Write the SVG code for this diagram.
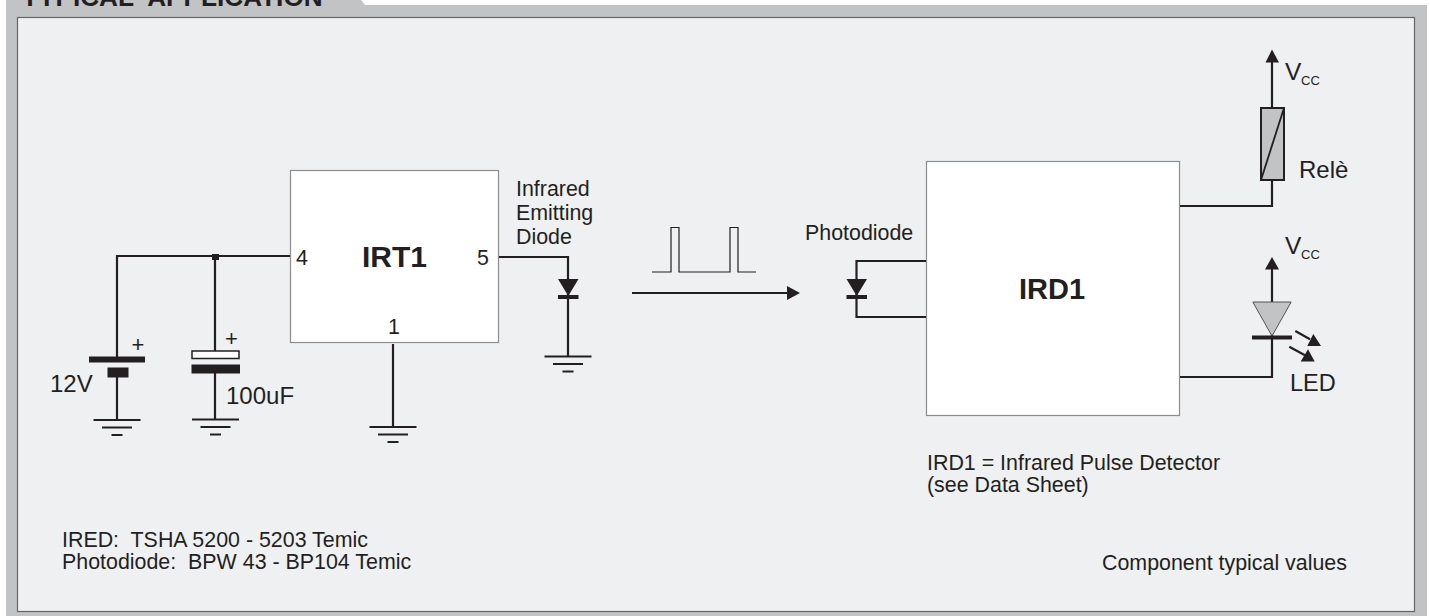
<svg xmlns="http://www.w3.org/2000/svg" width="1430" height="616" viewBox="0 0 1430 616">
<defs><g id="gnd"><path class="w" d="M-23.500 0H23.500M-15 7.500H15M-5.500 15H5.500" style="stroke-width:1.800"/></g></defs>
<style>
text{font-family:"Liberation Sans",Arial,sans-serif;fill:#231f20;font-size:21.4px;white-space:pre}
.w{fill:none;stroke:#231f20;stroke-width:2.2}
.t{fill:none;stroke:#231f20;stroke-width:1.2}
.b{fill:#fff;stroke:#8c8c8c;stroke-width:1.2}
.k{fill:#231f20;stroke:none}
</style>
<rect width="1430" height="616" fill="#fff"/>
<path d="M6 0H361L365 5H1427V616H6Z" fill="#c1c3c5"/>
<rect x="17.500" y="17.500" width="1397" height="594" fill="#eff0f2" stroke="#666" stroke-width="1.200"/>
<text x="22" y="6" style="font-size:26.200px;font-weight:700">TYPICAL  APPLICATION</text>
<g id="connectors">
<path class="w" d="M290 256H117V357M117 377V420M215 256V351M215 373V420M393 344V427M499 257H568V357"/>
<path class="w" d="M632 293H790"/><path class="k" d="M787 286L800 293L787 300Z"/>
<path class="t" d="M652 272H671V227.500H679V272H730V227.500H738V272H756"/>
<path class="w" d="M926 261H856.500V317H926M1180 206H1272V180M1272 108V60M1180 377H1272V268"/>
</g>
<g id="IRT1"><rect class="b" x="290.500" y="170.500" width="208" height="172"/>
<text x="362" y="267" style="font-size:30px;font-weight:700">IRT1</text><text x="296" y="265">4</text><text x="477" y="265">5</text><text x="388" y="334">1</text></g>
<g id="IRD1"><rect class="b" x="926.500" y="161.500" width="253" height="254"/>
<text x="1019" y="299" style="font-size:29px;font-weight:700">IRD1</text></g>
<g id="battery"><rect class="k" x="89" y="356.500" width="56" height="6"/><rect class="k" x="107.500" y="367.500" width="21" height="10"/>
<text x="131.500" y="352" style="font-size:22px">+</text><text x="50" y="392" style="font-size:24px">12V</text><use href="#gnd" x="117" y="420"/></g>
<g id="capacitor"><rect x="192" y="351" width="47" height="7.500" fill="#fff" stroke="#231f20" stroke-width="1.500"/><rect class="k" x="191.500" y="364.500" width="48.500" height="9"/>
<rect class="k" x="212" y="254" width="7" height="6"/><text x="225" y="346" style="font-size:22px">+</text><text x="226" y="404" style="font-size:24px">100uF</text><use href="#gnd" x="215.500" y="419.500"/></g>
<g id="ground-1"><use href="#gnd" x="393" y="427"/></g>
<g id="ired"><path class="k" d="M558 279H578.500L568.300 296Z"/><rect class="k" x="558" y="295" width="20.500" height="4"/><use href="#gnd" x="568" y="356.500"/>
<text x="516" y="196">Infrared</text><text x="516" y="220">Emitting</text><text x="516" y="244">Diode</text></g>
<g id="photodiode"><path class="k" d="M846.500 279H867L856.700 296Z"/><rect class="k" x="846.500" y="295" width="20.500" height="4"/><text x="805" y="240">Photodiode</text></g>
<g id="rele"><rect x="1261" y="108" width="23" height="72" fill="#c1c3c5" stroke="#231f20" stroke-width="2"/><path class="w" d="M1261 180L1284 108" style="stroke-width:1.800"/>
<path class="k" d="M1272 49.500L1279 62.500H1265.500Z"/><text x="1285" y="80" style="font-size:24.500px">V</text><text x="1301" y="84.500" style="font-size:13px">CC</text><text x="1299" y="178" style="font-size:24px">Relè</text></g>
<g id="led"><path d="M1252.800 302H1291.200L1272 336Z" fill="#c1c3c5" stroke="#555" stroke-width="1"/><rect class="k" x="1252" y="335.500" width="40" height="4"/>
<path class="k" d="M1272 257L1279 269.500H1265Z"/><path class="w" d="M1295.300 331L1310 339.300M1289.300 346.700L1305 355.300"/><path class="k" d="M1313.300 334L1321 346H1307.300ZM1308 349.300L1314.700 361.500H1300.700Z"/>
<text x="1285" y="253.500" style="font-size:24.500px">V</text><text x="1301" y="259" style="font-size:13px">CC</text><text x="1290" y="391" style="font-size:23.500px">LED</text></g>
<g id="notes"><text x="927" y="470">IRD1 = Infrared Pulse Detector</text><text x="927" y="492">(see Data Sheet)</text>
<text x="62" y="547">IRED:  TSHA 5200 - 5203 Temic</text><text x="62" y="569">Photodiode:  BPW 43 - BP104 Temic</text><text x="1102" y="570">Component typical values</text></g>
</svg>
